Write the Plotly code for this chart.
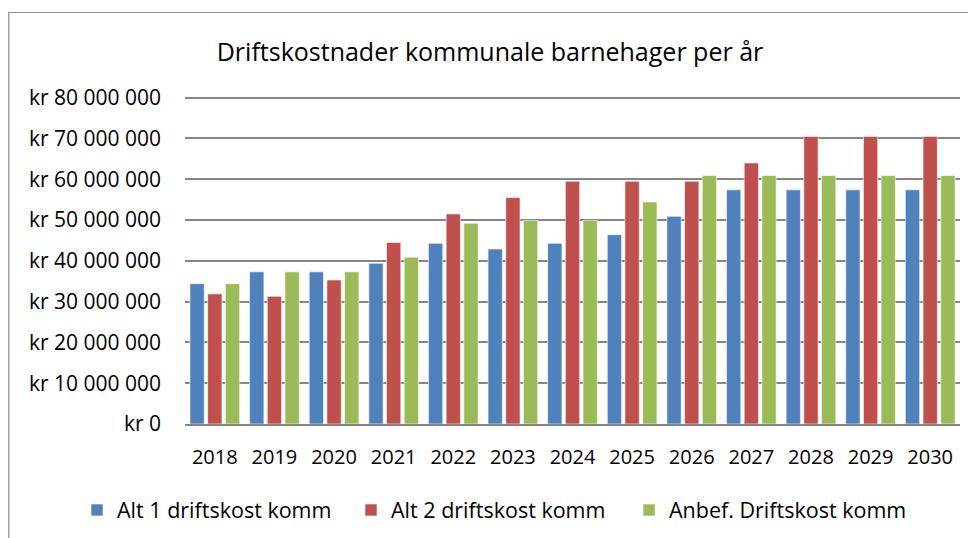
import plotly.graph_objects as go

years = ["2018", "2019", "2020", "2021", "2022", "2023", "2024", "2025", "2026", "2027", "2028", "2029", "2030"]
alt1 = [34.4e6, 37.3e6, 37.3e6, 39.4e6, 44.3e6, 42.9e6, 44.3e6, 46.4e6, 50.9e6, 57.4e6, 57.4e6, 57.4e6, 57.4e6]
alt2 = [31.9e6, 31.3e6, 35.3e6, 44.5e6, 51.5e6, 55.5e6, 59.5e6, 59.5e6, 59.5e6, 64.0e6, 70.5e6, 70.5e6, 70.5e6]
anbef = [34.4e6, 37.3e6, 37.3e6, 40.9e6, 49.2e6, 49.9e6, 49.9e6, 54.4e6, 60.9e6, 60.9e6, 60.9e6, 60.9e6, 60.9e6]
series_names = ["Alt 1 driftskost komm", "Alt 2 driftskost komm", "Anbef. Driftskost komm"]
y_tick_vals = [0, 10e6, 20e6, 30e6, 40e6, 50e6, 60e6, 70e6, 80e6]
y_tick_text = ["kr 0", "kr 10 000 000", "kr 20 000 000", "kr 30 000 000", "kr 40 000 000",
               "kr 50 000 000", "kr 60 000 000", "kr 70 000 000", "kr 80 000 000"]
title_text = "Driftskostnader kommunale barnehager per år"

FONT = "'Open Sans', Lato, sans-serif"
colors = ["#4F81BD", "#C0504D", "#9BBB59"]
legend_ids = ["legend", "legend2", "legend3"]
legend_left_px = [69, 343, 621]

W, H = 976, 538
L, R, T, B = 177, 24, 88, 122
PW, PH = W - L - R, H - T - B

fig = go.Figure()
for name, vals, col, lid in zip(series_names, [alt1, alt2, anbef], colors, legend_ids):
    fig.add_trace(go.Bar(x=years, y=vals, name=name, legend=lid,
                         marker=dict(color=col, line=dict(color="rgba(255,255,255,0.6)", width=1))))

legend_common = dict(orientation="h", xref="container", yref="container",
                     xanchor="left", y=1 - 502 / H, yanchor="middle",
                     font=dict(family=FONT, size=21.5, color="#000000"),
                     bgcolor="rgba(0,0,0,0)", borderwidth=0)

fig.update_layout(
    width=W, height=H,
    margin=dict(l=L, r=R, t=T, b=B, autoexpand=False),
    paper_bgcolor="white", plot_bgcolor="white",
    font=dict(family=FONT, size=20, color="#000000"),
    barmode="group", bargap=0.11, bargroupgap=0.19,
    title=dict(text=title_text, x=482 / W, xref="container", xanchor="center",
               y=1 - 44 / H, yref="container", yanchor="middle",
               font=dict(family=FONT, size=25, color="#000000")),
    legend=dict(x=legend_left_px[0] / W, **legend_common),
    legend2=dict(x=legend_left_px[1] / W, **legend_common),
    legend3=dict(x=legend_left_px[2] / W, **legend_common),
    showlegend=True,
)
fig.update_yaxes(range=[0, 80.4e6], tickvals=y_tick_vals, ticktext=y_tick_text,
                 showgrid=True, gridcolor="#868686", gridwidth=1.5,
                 zeroline=False, showline=False, ticks="", ticklabelstandoff=23,
                 tickfont=dict(family=FONT, size=21))
fig.update_xaxes(showline=True, linecolor="#868686", linewidth=1.5, ticks="",
                 ticklabelstandoff=14, tickfont=dict(family=FONT, size=20))

fig.add_shape(type="rect", xref="paper", yref="paper",
              x0=(0.8 - L) / PW, x1=(W + 20 - L) / PW,
              y0=(H - B - (H + 20)) / PH, y1=(H - B - 4.5) / PH,
              line=dict(color="#8c8c8c", width=1.2), fillcolor="rgba(0,0,0,0)", layer="below")

fig.write_html("out.html")
